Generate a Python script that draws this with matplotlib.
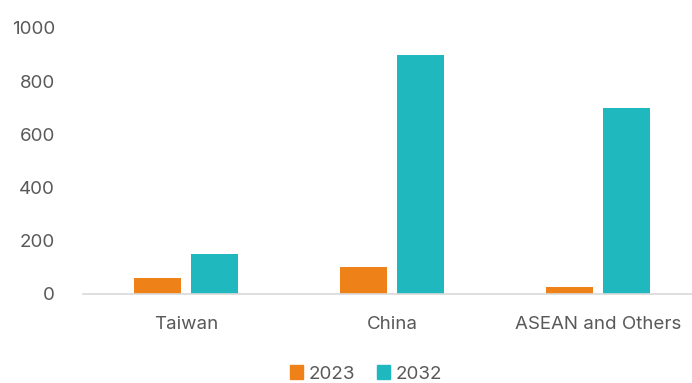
import numpy as np
import matplotlib.pyplot as plt
from matplotlib.patches import Patch

regions = ["Taiwan", "China", "ASEAN and Others"]
values_2023 = [60, 100, 25]
values_2032 = [150, 900, 700]
years = ["2023", "2032"]

orange = "#EE8218"
teal = "#1FB8BE"
text_color = "#595959"

plt.rcParams['font.family'] = ['Inter', 'DejaVu Sans']

fig = plt.figure(figsize=(6.92, 3.83), dpi=100)
ax = fig.add_axes([83 / 692, 89 / 383, 618 / 692, 266 / 383])

x = np.arange(len(regions))
width = 0.228
gap = 0.053
ax.bar(x - (width + gap) / 2, values_2023, width, color=orange, label=years[0])
ax.bar(x + (width + gap) / 2, values_2032, width, color=teal, label=years[1])

ax.set_xlim(-0.5, len(regions) - 0.5)
ax.set_ylim(0, 1000)
ax.set_yticks(range(0, 1001, 200))
ax.set_xticks(x)
ax.set_xticklabels(regions)
ax.tick_params(axis='both', length=0, labelsize=13.5, colors=text_color)
ax.tick_params(axis='x', pad=16)
ax.tick_params(axis='y', pad=20)

for side in ['top', 'right', 'left']:
    ax.spines[side].set_visible(False)
ax.spines['bottom'].set_color('#D9D9D9')
ax.spines['bottom'].set_linewidth(1.2)

handles = [Patch(color=orange), Patch(color=teal)]
fig.legend(handles, years, loc='center', bbox_to_anchor=(366 / 692, 1 - 374 / 383),
           ncol=2, frameon=False, prop={'size': 13.5},
           labelcolor=text_color, handlelength=0.7, handleheight=0.7,
           handletextpad=0.3, columnspacing=1.2)

fig.savefig("out.png", dpi=100)
